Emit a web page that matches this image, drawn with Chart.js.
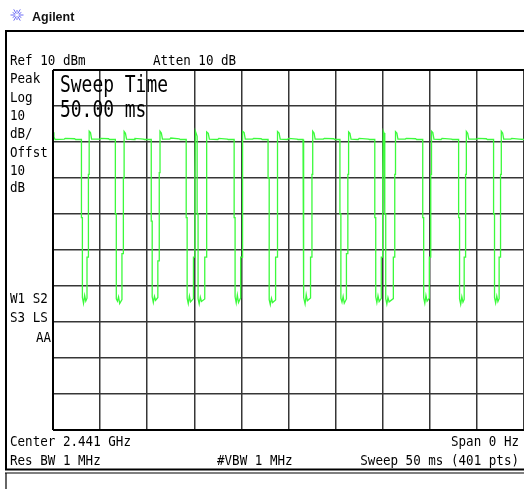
<!DOCTYPE html>
<html>
<head>
<meta charset="utf-8">
<script src="https://cdn.jsdelivr.net/npm/chart.js@4/dist/chart.umd.min.js"></script>
<style>
  html, body { margin: 0; padding: 0; background: #fff; }
  canvas { display: block; }
</style>
</head>
<body>
<canvas id="sa" width="524" height="489"></canvas>
<script>
// screen settings of the analyzer
const refLevel = 10;      // dBm, top graticule line
const dbPerDiv = 10;
const vDivs = 10;
const sweepTime = 50;     // ms over the full width
const msPerDiv = 5;

// trace: time (ms) / level (dBm), one row per dip
const sweepMs = [
  0, 0.10, 0.22, 1.20, 1.30, 2.30, 2.40,
  3.02, 3.02, 3.12, 3.12, 3.24, 3.36, 3.48, 3.61, 3.61, 3.76, 3.76, 3.84, 3.84, 3.98, 4.10, 5.00, 5.10, 5.90, 6.00,
  6.62, 6.62, 6.72, 6.72, 6.84, 6.96, 7.08, 7.32, 7.32, 7.47, 7.47, 7.55, 7.55, 7.69, 7.81, 8.60, 8.70, 9.60, 9.70,
  10.43, 10.43, 10.53, 10.53, 10.65, 10.77, 10.89, 11.13, 11.13, 11.28, 11.28, 11.36, 11.36, 11.50, 11.62, 12.40, 12.50, 13.40, 13.50,
  14.14, 14.14, 14.24, 14.24, 14.36, 14.48, 14.60, 14.91, 14.91, 15.06, 15.06, 15.12, 15.20,
  15.30, 15.30, 15.40, 15.40, 15.52, 15.64, 15.76, 16.11, 16.11, 16.26, 16.26, 16.34, 16.34, 16.48, 16.60, 17.50, 17.60, 18.50, 18.60,
  19.23, 19.23, 19.33, 19.33, 19.45, 19.57, 19.69, 19.92, 19.92, 20.07, 20.07, 20.15, 20.15, 20.29, 20.41, 21.20, 21.30, 22.10, 22.20,
  22.83, 22.83, 22.95, 22.95, 23.07, 23.19, 23.31, 23.63, 23.63, 23.78, 23.78, 23.86, 23.86, 24.00, 24.12, 24.90, 25.00, 25.90, 26.00,
  26.54, 26.54, 26.64, 26.64, 26.76, 26.88, 27.00, 27.34, 27.34, 27.49, 27.49, 27.57, 27.57, 27.71, 27.83, 28.70, 28.80, 29.80, 29.90,
  30.46, 30.46, 30.56, 30.56, 30.68, 30.80, 30.92, 31.15, 31.15, 31.30, 31.30, 31.38, 31.38, 31.52, 31.64, 32.40, 32.50, 33.50, 33.60,
  34.16, 34.16, 34.26, 34.26, 34.38, 34.50, 34.62, 34.85, 34.85, 35.00, 35.00, 35.06, 35.14,
  35.22, 35.22, 35.32, 35.32, 35.44, 35.56, 35.68, 36.13, 36.13, 36.28, 36.28, 36.36, 36.36, 36.50, 36.62, 37.40, 37.50, 38.50, 38.60,
  39.25, 39.25, 39.35, 39.35, 39.47, 39.59, 39.71, 39.95, 39.95, 40.10, 40.10, 40.18, 40.18, 40.32, 40.44, 41.20, 41.30, 42.30, 42.40,
  43.06, 43.06, 43.16, 43.16, 43.28, 43.40, 43.52, 43.65, 43.65, 43.80, 43.80, 43.88, 43.88, 44.02, 44.14, 45.00, 45.10, 46.00, 46.10,
  46.77, 46.77, 46.87, 46.87, 46.99, 47.11, 47.23, 47.36, 47.36, 47.51, 47.51, 47.59, 47.59, 47.73, 47.85, 48.60, 48.70, 49.50, 50.00
];
const levelDbm = [
  -7.3, -8.6, -9.3, -9.2, -9.0, -9.1, -9.3,
  -9.3, -31, -31, -53.2, -54.8, -52.6, -54.2, -53.4, -42, -42, -19, -19, -7.0, -7.4, -9.2, -9.2, -9.0, -9.1, -9.3,
  -9.3, -30, -30, -53.6, -54.2, -53.0, -54.9, -53.8, -41, -41, -20, -20, -7.1, -7.6, -9.2, -9.3, -9.0, -9.2, -9.3,
  -9.3, -32, -32, -53.0, -54.6, -52.9, -54.0, -53.2, -43, -43, -18.5, -18.5, -7.0, -7.5, -9.2, -9.2, -8.9, -9.1, -9.3,
  -9.3, -31, -31, -53.4, -54.9, -52.8, -54.4, -53.5, -42, -42, -19, -7.0, -7.6,
  -8.4, -30, -30, -53.5, -55.0, -53.1, -54.3, -53.6, -42, -42, -19, -19, -7.2, -7.6, -9.2, -9.3, -9.0, -9.2, -9.3,
  -9.3, -31, -31, -53.0, -54.7, -52.5, -54.6, -53.3, -42, -42, -19, -19, -7.0, -7.4, -9.2, -9.2, -9.0, -9.1, -9.3,
  -9.3, -20, -20, -53.8, -55.2, -53.4, -54.6, -53.9, -42, -42, -19, -19, -7.1, -7.5, -9.2, -9.3, -9.0, -9.2, -9.3,
  -9.3, -31, -31, -53.2, -55.0, -52.4, -54.1, -53.3, -42, -42, -19, -19, -7.0, -7.5, -9.2, -9.2, -9.0, -9.1, -9.3,
  -9.3, -30, -30, -53.4, -54.5, -52.9, -54.8, -53.6, -41, -41, -19, -19, -7.2, -7.6, -9.2, -9.3, -9.0, -9.2, -9.3,
  -9.3, -31, -31, -53.0, -54.6, -52.7, -54.3, -53.4, -42, -42, -19, -7.0, -7.5,
  -8.2, -30, -30, -53.5, -55.0, -53.2, -54.4, -53.5, -42, -42, -19, -19, -7.1, -7.5, -9.2, -9.2, -9.0, -9.1, -9.3,
  -9.3, -31, -31, -53.3, -54.8, -52.6, -54.2, -53.4, -42, -42, -19, -19, -7.0, -7.4, -9.2, -9.3, -9.0, -9.2, -9.3,
  -9.3, -31, -31, -53.6, -55.1, -53.0, -54.5, -53.7, -42, -42, -19, -19, -7.1, -7.6, -9.2, -9.2, -9.0, -9.1, -9.3,
  -9.3, -30, -30, -53.2, -54.7, -52.8, -54.3, -53.5, -42, -42, -19, -19, -7.0, -7.5, -9.2, -9.2, -9.0, -9.2, -9.3
];

// annotation texts
const headerLeft = "Ref 10 dBm";
const headerMid = "Atten 10 dB";
const sideTop = ["Peak", "Log", "10", "dB/", "Offst", "10", "dB"];
const sideLow = ["W1 S2", "S3 LS", "AA"];
const bigTitle = ["Sweep Time", "50.00 ms"];
const footLeft = ["Center 2.441 GHz", "Res BW 1 MHz"];
const footMid = "#VBW 1 MHz";
const footRight = ["Span 0 Hz", "Sweep 50 ms (401 pts)"];

const tracePoints = sweepMs.map((t, i) => ({ x: t, y: levelDbm[i] }));

const MONO = '"DejaVu Sans Mono", monospace';

// narrow instrument font -> squeeze horizontally
function txt(ctx, s, x, y, size, sx, align) {
  ctx.save();
  ctx.font = size + "px " + MONO;
  ctx.textAlign = "left";
  ctx.textBaseline = "alphabetic";
  let w = ctx.measureText(s).width * sx;
  ctx.translate(align === "right" ? x - w : x, y);
  ctx.scale(sx, 1);
  ctx.fillText(s, 0, 0);
  ctx.restore();
}

const screenPlugin = {
  id: "screen",
  beforeDraw(chart) {
    const ctx = chart.ctx;
    ctx.save();
    ctx.fillStyle = "#fff";
    ctx.fillRect(0, 0, chart.width, chart.height);
    ctx.restore();
  },
  afterDraw(chart) {
    const ctx = chart.ctx;
    const a = chart.chartArea;
    ctx.save();

    // logo
    ctx.strokeStyle = "#6b6bf5";
    ctx.lineWidth = 1;
    for (let k = 0; k < 12; k++) {
      const ang = k * Math.PI / 6;
      const r1 = k % 2 ? 2.5 : 1.5, r2 = k % 2 ? 5 : 6.5;
      ctx.beginPath();
      ctx.moveTo(17 + Math.cos(ang) * r1, 15 + Math.sin(ang) * r1);
      ctx.lineTo(17 + Math.cos(ang) * r2, 15 + Math.sin(ang) * r2);
      ctx.stroke();
    }
    ctx.fillStyle = "#111";
    ctx.font = 'bold 12.5px "Liberation Sans", Arial, sans-serif';
    ctx.fillText("Agilent", 32, 20.5);

    // instrument frame
    ctx.strokeStyle = "#000";
    ctx.lineWidth = 2;
    ctx.beginPath();
    ctx.moveTo(5, 31); ctx.lineTo(524, 31);
    ctx.moveTo(6, 30); ctx.lineTo(6, 470);
    ctx.moveTo(5, 469.5); ctx.lineTo(524, 469.5);
    ctx.stroke();
    ctx.lineWidth = 1.2;
    ctx.beginPath();
    ctx.moveTo(5, 473); ctx.lineTo(524, 473);
    ctx.moveTo(6, 473); ctx.lineTo(6, 489);
    ctx.stroke();

    // heavy graticule edges
    ctx.lineWidth = 2;
    ctx.beginPath();
    ctx.moveTo(a.left, a.top); ctx.lineTo(a.right, a.top);
    ctx.moveTo(a.left, a.top); ctx.lineTo(a.left, a.bottom);
    ctx.moveTo(a.left, a.bottom); ctx.lineTo(a.right, a.bottom);
    ctx.stroke();

    // texts
    ctx.fillStyle = "#000";
    txt(ctx, headerLeft, 10, 65, 13.5, 0.93);
    txt(ctx, headerMid, 153, 65, 13.5, 0.93);
    const sideY = [83, 101.5, 120, 138, 157, 175, 192];
    sideTop.forEach((s, i) => txt(ctx, s, 10, sideY[i], 13.5, 0.93));
    txt(ctx, sideLow[0], 10, 303, 13.5, 0.93);
    txt(ctx, sideLow[1], 10, 322, 13.5, 0.93);
    txt(ctx, sideLow[2], 51, 341.5, 13.5, 0.93, "right");
    txt(ctx, bigTitle[0], 60, 92, 23, 0.78);
    txt(ctx, bigTitle[1], 60, 117, 23, 0.78);
    txt(ctx, footLeft[0], 10, 446, 13.5, 0.93);
    txt(ctx, footLeft[1], 10, 465, 13.5, 0.93);
    txt(ctx, footMid, 217, 465, 13.5, 0.93);
    txt(ctx, footRight[0], 519, 446, 13.5, 0.93, "right");
    txt(ctx, footRight[1], 519, 465, 13.5, 0.93, "right");
    ctx.restore();
  }
};

const gridStyle = {
  color: "#363636",
  lineWidth: 1.5,
  drawTicks: false,
  tickLength: 0
};

new Chart(document.getElementById("sa"), {
  type: "line",
  data: {
    datasets: [{
      data: tracePoints,
      borderColor: "rgb(60,250,60)",
      borderWidth: 1.3,
      pointRadius: 0,
      tension: 0,
      fill: false
    }]
  },
  options: {
    responsive: false,
    devicePixelRatio: 1,
    animation: false,
    layout: { padding: { left: 53, top: 70, right: -2, bottom: 59 } },
    scales: {
      x: {
        type: "linear",
        min: 0,
        max: sweepTime,
        ticks: { display: false, stepSize: msPerDiv },
        grid: gridStyle,
        border: { display: false }
      },
      y: {
        type: "linear",
        min: refLevel - dbPerDiv * vDivs,
        max: refLevel,
        ticks: { display: false, stepSize: dbPerDiv },
        grid: gridStyle,
        border: { display: false }
      }
    },
    plugins: {
      legend: { display: false },
      tooltip: { enabled: false }
    }
  },
  plugins: [screenPlugin]
});
</script>
</body>
</html>
